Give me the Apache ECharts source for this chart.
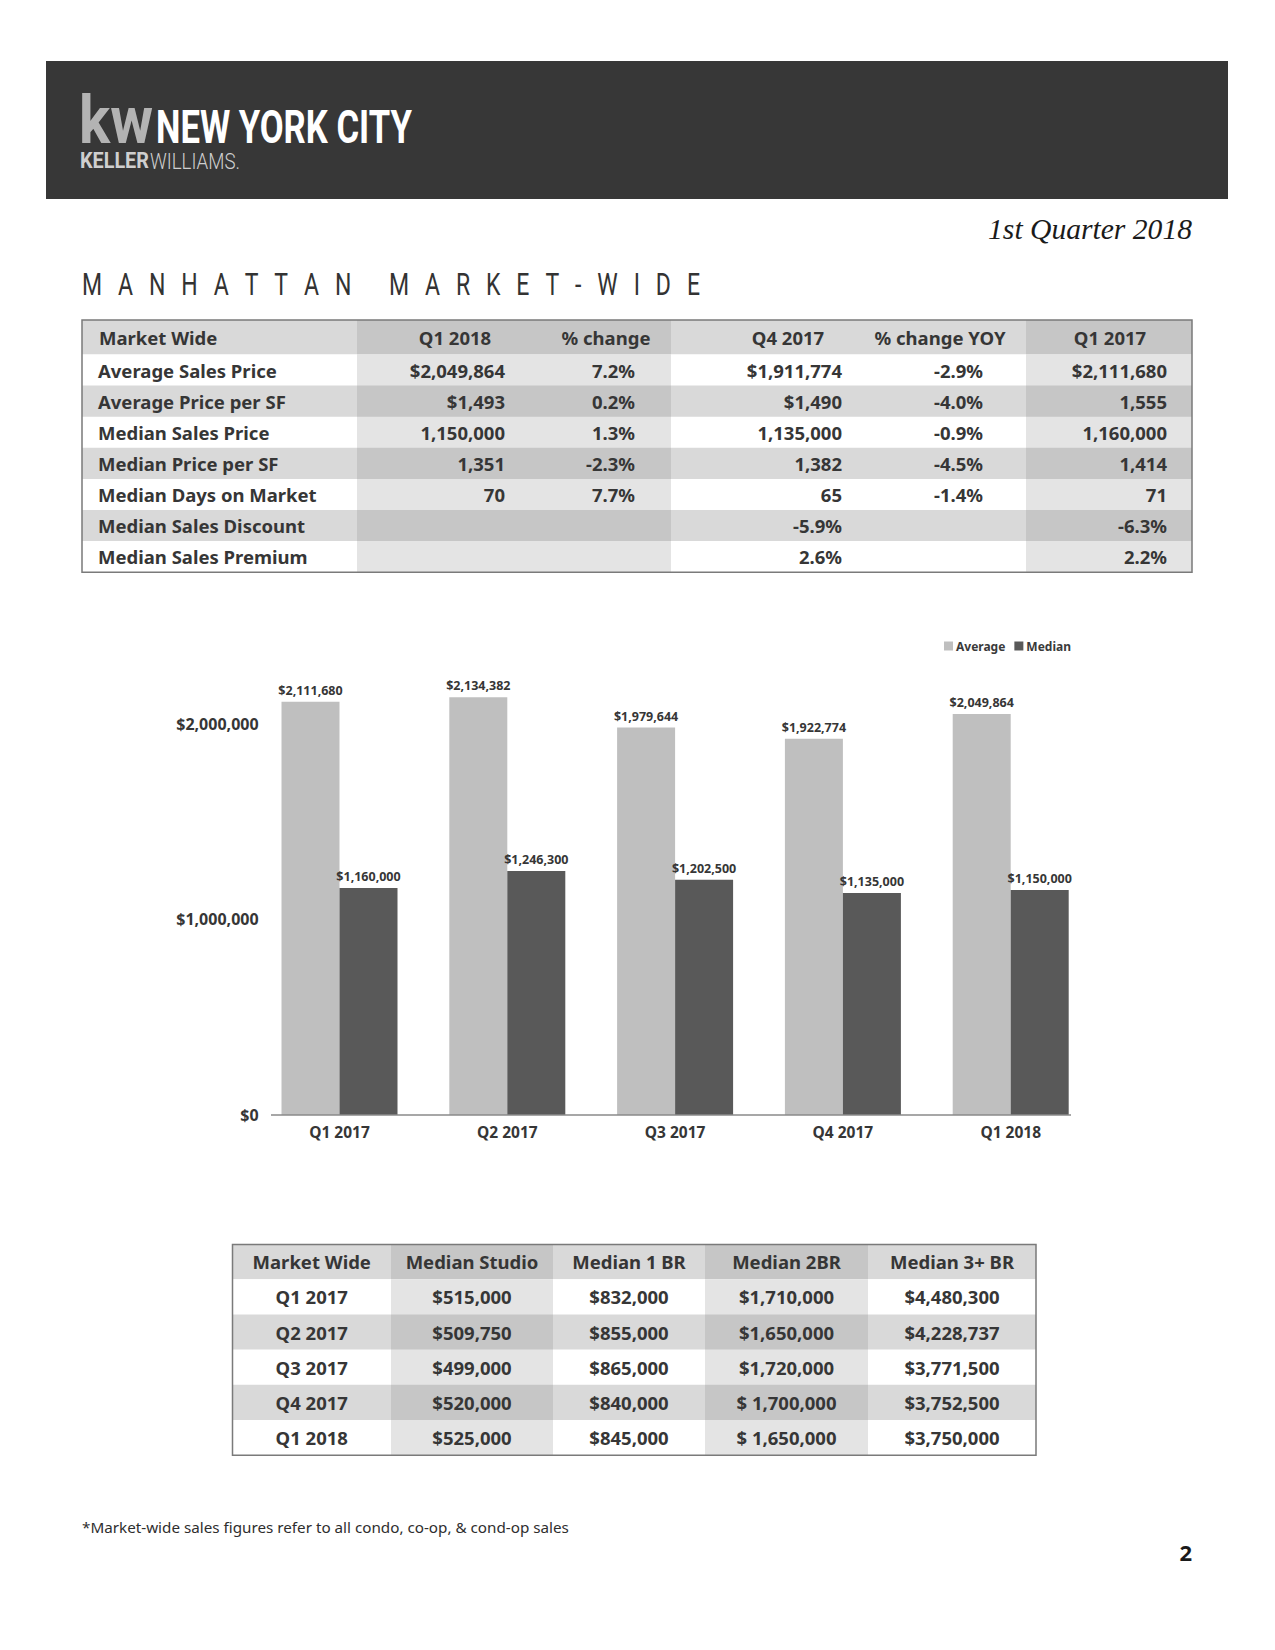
<!DOCTYPE html>
<html><head><meta charset="utf-8">
<script src="https://cdn.jsdelivr.net/npm/echarts@6/dist/echarts.min.js"></script>
<style>html,body{margin:0;padding:0;background:#fff;}#main{width:1275px;height:1650px;}</style>
</head><body><div id="main"></div>
<script>
// ---------- data ----------
const quarters = ['Q1 2017', 'Q2 2017', 'Q3 2017', 'Q4 2017', 'Q1 2018'];
const averagePrices = [2111680, 2134382, 1979644, 1922774, 2049864];
const medianPrices = [1160000, 1246300, 1202500, 1135000, 1150000];
const yTickValues = [0, 1000000, 2000000];

const summaryHeaders = ['Market Wide', 'Q1 2018', '% change', 'Q4 2017', '% change YOY', 'Q1 2017'];
const summaryLabels = ['Average Sales Price', 'Average Price per SF', 'Median Sales Price', 'Median Price per SF', 'Median Days on Market', 'Median Sales Discount', 'Median Sales Premium'];
const summaryQ12018 = ['$2,049,864', '$1,493', '1,150,000', '1,351', '70', '', ''];
const summaryChange = ['7.2%', '0.2%', '1.3%', '-2.3%', '7.7%', '', ''];
const summaryQ42017 = ['$1,911,774', '$1,490', '1,135,000', '1,382', '65', '-5.9%', '2.6%'];
const summaryChangeYoy = ['-2.9%', '-4.0%', '-0.9%', '-4.5%', '-1.4%', '', ''];
const summaryQ12017 = ['$2,111,680', '1,555', '1,160,000', '1,414', '71', '-6.3%', '2.2%'];

const unitHeaders = ['Market Wide', 'Median Studio', 'Median 1 BR', 'Median 2BR', 'Median 3+ BR'];
const unitQuarters = ['Q1 2017', 'Q2 2017', 'Q3 2017', 'Q4 2017', 'Q1 2018'];
const medianStudio = ['$515,000', '$509,750', '$499,000', '$520,000', '$525,000'];
const median1BR = ['$832,000', '$855,000', '$865,000', '$840,000', '$845,000'];
const median2BR = ['$1,710,000', '$1,650,000', '$1,720,000', '$ 1,700,000', '$ 1,650,000'];
const median3BR = ['$4,480,300', '$4,228,737', '$3,771,500', '$3,752,500', '$3,750,000'];

// ---------- helpers ----------
const TXT = '#363636';
const mctx = document.createElement('canvas').getContext('2d');
function tw(text, font) { mctx.font = font; return mctx.measureText(text).width; }
const g = [];
function addText(text, font, x, y, fill, align, targetW) {
  const s = targetW ? targetW / tw(text, font) : 1;
  g.push({ type: 'text', silent: true, x: x, y: y, scaleX: s, z: 10,
    style: { text: text, x: 0, y: 0, font: font, fill: fill, textAlign: align || 'left', textVerticalAlign: 'middle', verticalAlign: 'middle' } });
}
function addRect(x, y, w, h, fill, stroke, lw) {
  g.push({ type: 'rect', silent: true, z: 1, shape: { x: x, y: y, width: w, height: h },
    style: { fill: fill || 'none', stroke: stroke || 'none', lineWidth: lw || 0 } });
}
function cellFill(rowType, shaded) {
  if (rowType === 'white') return shaded ? '#e4e4e4' : '#ffffff';
  return shaded ? '#c6c6c6' : '#d9d9d9';
}
const TFONT = 'bold 18.5px "Noto Sans"';

// ---------- header band ----------
addRect(46, 61, 1182, 138, '#373737');
addText('kw', 'bold 66px Roboto', 79, 120, '#b3b3b3', 'left', 74);
addText('NEW YORK CITY', 'bold 47px Roboto', 156, 127, '#ffffff', 'left', 256);
addText('KELLER', 'bold 22px Roboto', 80, 161, '#cfcfcf', 'left', 69);
addText('WILLIAMS.', '300 22px Roboto', 150, 161, '#cfcfcf', 'left', 90);

addText('1st Quarter 2018', 'italic 30px "Liberation Serif"', 1192, 228, '#1a1a1a', 'right', 204);

// letter-spaced section title
(function () {
  const t = 'MANHATTAN MARKET-WIDE';
  const font = '400 32px Roboto';
  const sx = 0.72;
  const widths = t.split('').map(c => tw(c, font) * sx);
  const sum = widths.reduce((a, b) => a + b, 0);
  const sp = (618 - sum) / (t.length - 1);
  let x = 82;
  t.split('').forEach((c, i) => {
    if (c !== ' ') g.push({ type: 'text', silent: true, x: x, y: 284, scaleX: sx, z: 10,
      style: { text: c, x: 0, y: 0, font: font, fill: '#333333', textAlign: 'left', textVerticalAlign: 'middle', verticalAlign: 'middle' } });
    x += widths[i] + sp;
  });
})();

// ---------- summary table ----------
(function () {
  const cols = [
    { x0: 82, x1: 357, sh: false, ha: 'left', hx: 99, va: 'left', vx: 98, vals: summaryLabels },
    { x0: 357, x1: 520, sh: true, ha: 'center', hx: 455, va: 'right', vx: 505, vals: summaryQ12018 },
    { x0: 520, x1: 671, sh: true, ha: 'center', hx: 606, va: 'right', vx: 635, vals: summaryChange },
    { x0: 671, x1: 855, sh: false, ha: 'center', hx: 788, va: 'right', vx: 842, vals: summaryQ42017 },
    { x0: 855, x1: 1026, sh: false, ha: 'center', hx: 940, va: 'right', vx: 983, vals: summaryChangeYoy },
    { x0: 1026, x1: 1192, sh: true, ha: 'center', hx: 1110, va: 'right', vx: 1167, vals: summaryQ12017 }
  ];
  const top = 320, hh = 34.5, rh = 31.1;
  cols.forEach((c, ci) => {
    addRect(c.x0, top, c.x1 - c.x0, hh, cellFill('gray', c.sh));
    addText(summaryHeaders[ci], TFONT, c.hx, top + hh / 2, TXT, c.ha);
    c.vals.forEach((v, ri) => {
      const y = top + hh + ri * rh;
      addRect(c.x0, y, c.x1 - c.x0, rh + 0.5, cellFill(ri % 2 === 0 ? 'white' : 'gray', c.sh));
      if (v) addText(v, TFONT, c.vx, y + rh / 2, TXT, c.va);
    });
  });
  addRect(82, top, 1110, hh + 7 * rh, 'none', '#7a7a7a', 1.5);
})();

// ---------- unit table ----------
(function () {
  const edges = [232.5, 391, 553, 705, 868, 1036];
  const shaded = [false, true, false, true, false];
  const data = [unitQuarters, medianStudio, median1BR, median2BR, median3BR];
  const top = 1244.5, hh = 34.7, rh = 35.2;
  data.forEach((vals, ci) => {
    const x0 = edges[ci], x1 = edges[ci + 1], cx = (x0 + x1) / 2;
    addRect(x0, top, x1 - x0, hh, cellFill('gray', shaded[ci]));
    addText(unitHeaders[ci], TFONT, cx, top + hh / 2, TXT, 'center');
    vals.forEach((v, ri) => {
      const y = top + hh + ri * rh;
      addRect(x0, y, x1 - x0, rh + 0.5, cellFill(ri % 2 === 0 ? 'white' : 'gray', shaded[ci]));
      addText(v, TFONT, cx, y + rh / 2, TXT, 'center');
    });
  });
  addRect(232.5, top, 1036 - 232.5, hh + 5 * rh, 'none', '#7a7a7a', 1.5);
})();

// ---------- footer ----------
addText('*Market-wide sales figures refer to all condo, co-op, & cond-op sales', '15px "Noto Sans"', 82, 1527, '#2e2e2e', 'left', 487);
addText('2', 'bold 22px "Noto Sans"', 1192, 1552, '#1a1a1a', 'right');

// chart baseline
g.push({ type: 'line', silent: true, z: 5, shape: { x1: 271, y1: 1115, x2: 1071, y2: 1115 }, style: { stroke: '#8a8a8a', lineWidth: 1.5 } });

// ---------- chart ----------
const money = v => '$' + Number(v).toLocaleString('en-US');
const chart = echarts.init(document.getElementById('main'), null, { renderer: 'svg' });
chart.setOption({
  animation: false,
  backgroundColor: '#ffffff',
  textStyle: { fontFamily: 'Noto Sans' },
  grid: { left: 255.6, top: 625.8, width: 839, height: 489.2, containLabel: false, outerBoundsMode: 'none' },
  legend: {
    data: ['Average', 'Median'], right: 204, top: 640, padding: 0, icon: 'rect', itemWidth: 9, itemHeight: 9, itemGap: 9,
    textStyle: { fontSize: 12, fontWeight: 'bold', color: '#3a3a3a', padding: [0, 0, 0, -2] }
  },
  xAxis: {
    type: 'category', data: quarters,
    axisLine: { show: false }, axisTick: { show: false },
    axisLabel: { fontSize: 15.5, fontWeight: 'bold', color: '#363636', margin: 9 }
  },
  yAxis: {
    type: 'value', min: 0, max: 2500000, interval: 1000000,
    splitLine: { show: false }, axisLine: { show: false }, axisTick: { show: false },
    axisLabel: { fontSize: 16, fontWeight: 'bold', color: '#363636', margin: -3,
      formatter: v => yTickValues.includes(v) ? money(v) : '' }
  },
  series: [
    { name: 'Average', type: 'bar', data: averagePrices, barWidth: 58, barGap: '0%',
      itemStyle: { color: '#bfbfbf' },
      label: { show: true, position: 'top', distance: 5, formatter: p => money(p.value), fontSize: 12.5, fontWeight: 'bold', color: '#363636' } },
    { name: 'Median', type: 'bar', data: medianPrices, barWidth: 58, barGap: '0%',
      itemStyle: { color: '#595959' },
      label: { show: true, position: 'top', distance: 5, formatter: p => money(p.value), fontSize: 12.5, fontWeight: 'bold', color: '#363636' } }
  ],
  graphic: g
});
</script></body></html>
